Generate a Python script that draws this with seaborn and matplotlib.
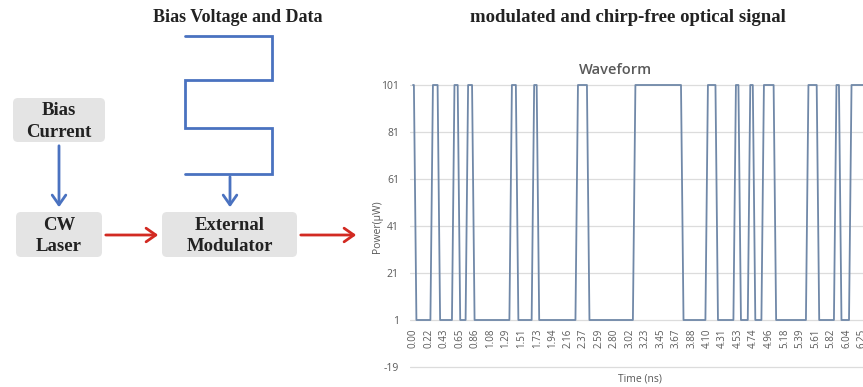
import matplotlib
matplotlib.use("Agg")
import matplotlib.pyplot as plt
from matplotlib.patches import FancyBboxPatch, FancyArrowPatch
import seaborn as sns
import pandas as pd

# ---------------- data ----------------
# waveform: signal starts high; times (ns) of falling and rising edges
fall_times = [0.03, 0.36, 0.64, 0.84, 1.45, 1.74, 2.44, 3.75, 4.23, 4.55, 4.75, 5.04, 5.64, 5.95]
rise_times = [0.26, 0.56, 0.75, 1.36, 1.67, 2.28, 3.08, 4.09, 4.48, 4.68, 4.87, 5.49, 5.88, 6.09]
low_level = 1
high_level = 101
t_end = 6.9

x_tick_labels = ["0.00", "0.22", "0.43", "0.65", "0.86", "1.08", "1.29", "1.51", "1.73", "1.94",
                 "2.16", "2.37", "2.59", "2.80", "3.02", "3.23", "3.45", "3.67", "3.88", "4.10",
                 "4.31", "4.53", "4.74", "4.96", "5.18", "5.39", "5.61", "5.82", "6.04", "6.25"]
y_ticks = [-19, 1, 21, 41, 61, 81, 101]

chart_title = "Waveform"
x_label = "Time (ns)"
y_label = "Power(\u03bcW)"
left_title = "Bias Voltage and Data"
right_title = "modulated and chirp-free optical signal"
box_labels = ["Bias\nCurrent", "CW\nLaser", "External\nModulator"]

# ---------------- style ----------------
sns.set_theme(style="white")
plt.rcParams["font.family"] = ["Open Sans", "DejaVu Sans"]

W, H = 863, 387
fig = plt.figure(figsize=(W / 100, H / 100), dpi=100)
fig.patch.set_facecolor("white")

# background / schematic axes in pixel coordinates
bg = fig.add_axes([0, 0, 1, 1])
bg.set_xlim(0, W)
bg.set_ylim(H, 0)
bg.axis("off")

serif = ["Liberation Serif", "DejaVu Serif"]
box_color = "#e4e4e4"
blue = "#4a72c0"
red = "#d22a22"

boxes = [(13, 98, 92, 44), (16, 212, 86, 45), (162, 212, 135, 45)]
for (bx, by, bw, bh), lab in zip(boxes, box_labels):
    p = FancyBboxPatch((bx, by), bw, bh, boxstyle="round,pad=0,rounding_size=5",
                       facecolor=box_color, edgecolor="none", zorder=1)
    bg.add_patch(p)
    bg.text(bx + bw / 2, by + bh / 2 + 1.5, lab, ha="center", va="center",
            fontsize=13.5, fontweight="bold", family=serif, color="#222222",
            linespacing=1.35, zorder=2)

def arrow(x0, y0, x1, y1, c):
    a = FancyArrowPatch((x0, y0), (x1, y1), arrowstyle="->,head_length=0.5,head_width=0.35",
                        mutation_scale=14, color=c, lw=2, zorder=3)
    bg.add_patch(a)

arrow(59, 143, 59, 210, blue)
arrow(103, 235, 161, 235, red)
arrow(298, 235, 359, 235, red)
arrow(230, 174, 230, 210, blue)

sq_x = [185, 272, 272, 185, 185, 272, 272, 185]
sq_y = [36, 36, 80, 80, 128, 128, 174, 174]
bg.plot(sq_x, sq_y, color=blue, lw=2, solid_joinstyle="miter", zorder=3)

bg.text(238, 18, left_title, ha="center", va="center", fontsize=13,
        fontweight="bold", family=serif, color="#222222")
bg.text(628, 18, right_title, ha="center", va="center", fontsize=13.5,
        fontweight="bold", family=serif, color="#222222")

# ---------------- waveform axes ----------------
px_t0, px_per_ns = 413.0, 71.8
ax_left_px, ax_right_px = 410.0, 905.0
ax_top_px, ax_bot_px = 82.0, 370.0
ax = fig.add_axes([ax_left_px / W, (H - ax_bot_px) / H,
                   (ax_right_px - ax_left_px) / W, (ax_bot_px - ax_top_px) / H])
ax.set_xlim((ax_left_px - px_t0) / px_per_ns, (ax_right_px - px_t0) / px_per_ns)
u_per_px = 120 / (367 - 85)
ax.set_ylim(-19 - 3 * u_per_px, 101 + 3 * u_per_px)
ax.patch.set_alpha(0)
for s in ax.spines.values():
    s.set_visible(False)

# build trapezoidal waveform vertices from edge times
edge = 0.035
events = sorted([(t, "f") for t in fall_times] + [(t, "r") for t in rise_times])
xs, ys = [0.0], [high_level]
for t, kind in events:
    if kind == "f":
        xs += [t - edge / 2, t + edge / 2]
        ys += [high_level, low_level]
    else:
        xs += [t - edge / 2, t + edge / 2]
        ys += [low_level, high_level]
xs.append(t_end)
ys.append(ys[-1])
df = pd.DataFrame({"t": xs, "p": ys})

for yt in y_ticks:
    ax.axhline(yt, color="#dcdcdc", lw=0.9, zorder=0)

sns.lineplot(data=df, x="t", y="p", sort=False, estimator=None, ax=ax,
             color="#7088a8", linewidth=1.3, zorder=3)

ax.set_xticks([])
ax.set_yticks(y_ticks)
ax.set_yticklabels([str(v) for v in y_ticks], fontsize=7.5, color="#595959")
ax.tick_params(axis="y", length=0, pad=8)
ax.set_xlabel("")
ax.set_ylabel("")

for lab in x_tick_labels:
    ax.text(float(lab), -2.8, lab, rotation=90, ha="center", va="top",
            fontsize=7, color="#595959", zorder=4)

bg.text(615, 70, chart_title, ha="center", va="center", fontsize=10.5,
        color="#595959", fontweight="semibold")
bg.text(640, 379, x_label, ha="center", va="center", fontsize=7.5, color="#595959")
bg.text(377, 227, y_label, ha="center", va="center", rotation=90, fontsize=7.5,
        color="#595959")

fig.savefig("out.png", dpi=100)
